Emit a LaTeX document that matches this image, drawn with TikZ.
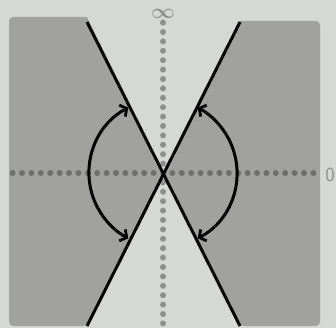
\documentclass[tikz,border=0pt]{standalone}
\usetikzlibrary{arrows.meta}
\definecolor{bgc}{HTML}{D6D9D3}
\definecolor{shade}{HTML}{A1A29E}
\definecolor{dotdark}{HTML}{6E6F6C}
\definecolor{dotlight}{HTML}{8E8F8C}
\tikzset{
  region/.style={fill=shade, rounded corners=4pt},
  axisdots/.style={line width=6pt, line cap=round, dash pattern=on 0pt off 9.4pt},
  boundary/.style={line width=3pt, black},
  swing/.style={line width=3pt, black, {Straight Barb[length=5pt,width=13pt,line width=2.8pt]}-{Straight Barb[length=5pt,width=13pt,line width=2.8pt]}},
  lbl/.style={text=dotlight, inner sep=0pt}
}
\begin{document}
\begin{tikzpicture}[x=1pt,y=-1pt]
\useasboundingbox (0,0) rectangle (336,328);
\fill[bgc] (0,0) rectangle (336,328);
\coordinate (O) at (163,173);
\coordinate (tl) at (87,22);
\coordinate (br) at (240,326);
\coordinate (tr) at (240,22);
\coordinate (bl) at (87,326);
% shaded regions
\fill[region] (87,17) -- (9,17) -- (9,326) -- (87,326) [sharp corners] -- (O) -- cycle;
\fill[region] (240,21) -- (320,21) -- (320,326) -- (240,326) [sharp corners] -- (O) -- cycle;
% axes
\draw[axisdots, dotdark] (12.6,173) -- (313.5,173);
\draw[axisdots, dotlight] (163,22.6) -- (163,323.5);
\node[lbl, font=\fontsize{20}{20}\selectfont\boldmath] (inf) at (163,13.5) {$\infty$};
\node[lbl, font=\fontsize{20}{20}\selectfont\sffamily] (zero) at (330,175) {0};
% boundary lines
\draw[boundary] (tl) -- (br);
\draw[boundary] (tr) -- (bl);
% arcs
\draw[swing] ([shift={(242:74)}]O) arc[start angle=242, end angle=118, radius=74];
\draw[swing] ([shift={(62:74)}]O) arc[start angle=62, end angle=-62, radius=74];
\end{tikzpicture}
\end{document}
